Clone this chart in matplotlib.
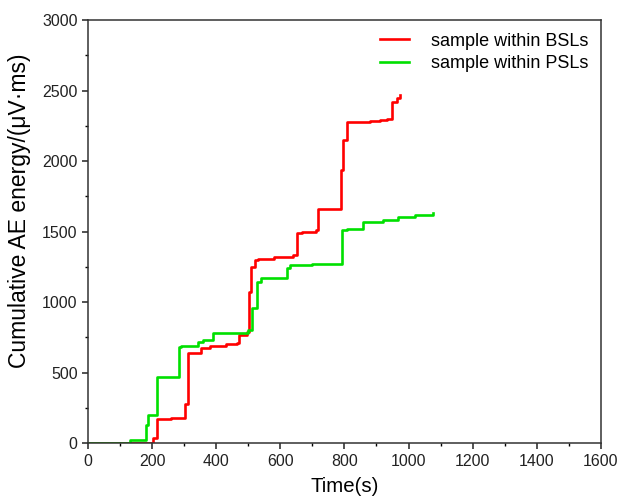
import matplotlib
matplotlib.use("Agg")
import matplotlib.pyplot as plt
from matplotlib.ticker import MultipleLocator

plt.rcParams['font.family'] = ['Liberation Sans', 'DejaVu Sans']

# Sample within BSLs (red)
red_t = [0, 150, 203, 216, 260, 303, 313, 351, 380, 430, 464, 472, 495, 502, 508, 521, 531, 580, 640,
         651, 667, 711, 718, 783, 789, 797, 808, 880, 911, 932, 947, 963, 973]
red_y = [0, 0, 35, 170, 178, 276, 638, 673, 690, 700, 709, 766, 787, 1073, 1250, 1297, 1309, 1320, 1333,
         1487, 1498, 1515, 1657, 1660, 1940, 2150, 2276, 2285, 2290, 2300, 2420, 2450, 2470]

# Sample within PSLs (green)
green_t = [0, 131, 181, 188, 216, 285, 290, 344, 359, 390, 500, 511, 526, 541, 620, 630, 700, 791,
           794, 807, 859, 921, 968, 1020, 1077]
green_y = [0, 20, 128, 199, 470, 683, 690, 718, 735, 778, 800, 955, 1144, 1168, 1239, 1262, 1270, 1285,
           1510, 1522, 1569, 1586, 1605, 1621, 1633]

labels = ["sample within BSLs", "sample within PSLs"]

fig = plt.figure(figsize=(6.2, 5.03), dpi=100)
ax = fig.add_axes([0.142, 0.119, 0.827, 0.841])

ax.plot(red_t, red_y, drawstyle='steps-post', color='#ff0000', lw=1.9, label=labels[0])
ax.plot(green_t, green_y, drawstyle='steps-post', color='#00e000', lw=1.9, label=labels[1])

ax.set_xlim(0, 1600)
ax.set_ylim(0, 3000)
ax.xaxis.set_major_locator(MultipleLocator(200))
ax.xaxis.set_minor_locator(MultipleLocator(100))
ax.yaxis.set_major_locator(MultipleLocator(500))
ax.yaxis.set_minor_locator(MultipleLocator(250))
ax.tick_params(which='major', direction='out', length=4, width=1.1, labelsize=11.5, colors='#222222')
ax.tick_params(which='minor', direction='out', length=2.5, width=1.0)
for s in ax.spines.values():
    s.set_linewidth(1.1)
    s.set_color('#333333')

ax.set_xlabel("Time(s)", fontsize=14.7, labelpad=6)
ax.set_ylabel("Cumulative AE energy/(μV·ms)", fontsize=16.5)
ax.yaxis.set_label_coords(-0.112, 0.55)

ax.legend(loc='upper right', frameon=False, fontsize=13, handlelength=1.6,
          borderaxespad=0.3, labelspacing=0.3, handletextpad=1.2)

fig.savefig("out.png", dpi=100)
